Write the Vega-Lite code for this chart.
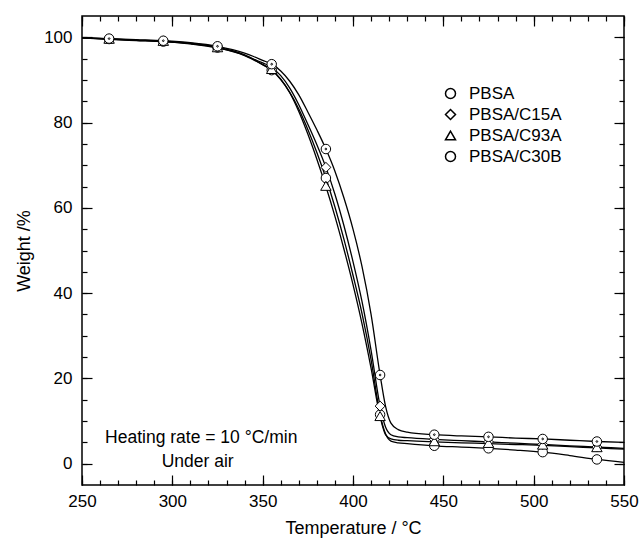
{
  "$schema": "https://vega.github.io/schema/vega-lite/v6.json",
  "width": 542,
  "height": 469,
  "autosize": "none",
  "padding": {"left": 82, "top": 16, "right": 18, "bottom": 60},
  "background": "white",
  "config": {
    "view": {"stroke": "black", "strokeWidth": 1.5},
    "font": "Liberation Sans",
    "axis": {
      "domain": false,
      "tickColor": "black", "tickWidth": 1.2,
      "labelFontSize": 17, "labelColor": "black", "labelFont": "Liberation Sans",
      "titleFont": "Liberation Sans", "titleFontSize": 18, "titleFontWeight": "normal", "titleColor": "black",
      "grid": false, "labelFlush": false, "labelOverlap": false, "labelBound": false
    }
  },
  "datasets": {
    "curves": [
      {"s":"PBSA","T":250,"W":99.9},{"s":"PBSA","T":265,"W":99.6},{"s":"PBSA","T":280,"W":99.3},{"s":"PBSA","T":295,"W":99.0},{"s":"PBSA","T":310,"W":98.5},{"s":"PBSA","T":325,"W":97.6},{"s":"PBSA","T":340,"W":95.8},{"s":"PBSA","T":345,"W":94.8},{"s":"PBSA","T":350,"W":93.6},{"s":"PBSA","T":355,"W":92.3},{"s":"PBSA","T":360,"W":90.1},{"s":"PBSA","T":365,"W":87.1},{"s":"PBSA","T":370,"W":83.2},{"s":"PBSA","T":375,"W":78.4},{"s":"PBSA","T":380,"W":73.0},{"s":"PBSA","T":385,"W":67.0},{"s":"PBSA","T":390,"W":60.2},{"s":"PBSA","T":395,"W":52.6},{"s":"PBSA","T":400,"W":44.2},{"s":"PBSA","T":405,"W":35.2},{"s":"PBSA","T":410,"W":24.4},{"s":"PBSA","T":415,"W":11.5},{"s":"PBSA","T":418,"W":7.0},{"s":"PBSA","T":421,"W":5.3},{"s":"PBSA","T":425,"W":4.9},{"s":"PBSA","T":430,"W":4.7},{"s":"PBSA","T":445,"W":4.2},{"s":"PBSA","T":460,"W":3.9},{"s":"PBSA","T":475,"W":3.6},{"s":"PBSA","T":490,"W":3.2},{"s":"PBSA","T":505,"W":2.7},{"s":"PBSA","T":520,"W":1.9},{"s":"PBSA","T":535,"W":1.0},{"s":"PBSA","T":550,"W":0.3},
      {"s":"PBSA/C15A","T":250,"W":99.9},{"s":"PBSA/C15A","T":265,"W":99.6},{"s":"PBSA/C15A","T":280,"W":99.35},{"s":"PBSA/C15A","T":295,"W":99.1},{"s":"PBSA/C15A","T":310,"W":98.6},{"s":"PBSA/C15A","T":325,"W":97.7},{"s":"PBSA/C15A","T":340,"W":95.9},{"s":"PBSA/C15A","T":345,"W":94.9},{"s":"PBSA/C15A","T":350,"W":94.0},{"s":"PBSA/C15A","T":355,"W":93.0},{"s":"PBSA/C15A","T":360,"W":91.0},{"s":"PBSA/C15A","T":365,"W":88.1},{"s":"PBSA/C15A","T":370,"W":84.2},{"s":"PBSA/C15A","T":375,"W":79.6},{"s":"PBSA/C15A","T":380,"W":74.8},{"s":"PBSA/C15A","T":385,"W":69.5},{"s":"PBSA/C15A","T":390,"W":63.2},{"s":"PBSA/C15A","T":395,"W":55.8},{"s":"PBSA/C15A","T":400,"W":47.4},{"s":"PBSA/C15A","T":405,"W":38.0},{"s":"PBSA/C15A","T":410,"W":26.6},{"s":"PBSA/C15A","T":415,"W":13.5},{"s":"PBSA/C15A","T":418,"W":8.6},{"s":"PBSA/C15A","T":421,"W":6.8},{"s":"PBSA/C15A","T":425,"W":6.3},{"s":"PBSA/C15A","T":430,"W":6.1},{"s":"PBSA/C15A","T":445,"W":5.7},{"s":"PBSA/C15A","T":460,"W":5.4},{"s":"PBSA/C15A","T":475,"W":5.1},{"s":"PBSA/C15A","T":490,"W":4.8},{"s":"PBSA/C15A","T":505,"W":4.5},{"s":"PBSA/C15A","T":520,"W":4.2},{"s":"PBSA/C15A","T":535,"W":3.9},{"s":"PBSA/C15A","T":550,"W":3.6},
      {"s":"PBSA/C93A","T":250,"W":99.85},{"s":"PBSA/C93A","T":265,"W":99.5},{"s":"PBSA/C93A","T":280,"W":99.25},{"s":"PBSA/C93A","T":295,"W":99.0},{"s":"PBSA/C93A","T":310,"W":98.45},{"s":"PBSA/C93A","T":325,"W":97.5},{"s":"PBSA/C93A","T":340,"W":95.7},{"s":"PBSA/C93A","T":345,"W":94.7},{"s":"PBSA/C93A","T":350,"W":93.6},{"s":"PBSA/C93A","T":355,"W":92.4},{"s":"PBSA/C93A","T":360,"W":90.2},{"s":"PBSA/C93A","T":365,"W":87.0},{"s":"PBSA/C93A","T":370,"W":82.6},{"s":"PBSA/C93A","T":375,"W":77.3},{"s":"PBSA/C93A","T":380,"W":71.4},{"s":"PBSA/C93A","T":385,"W":65.0},{"s":"PBSA/C93A","T":390,"W":58.0},{"s":"PBSA/C93A","T":395,"W":50.3},{"s":"PBSA/C93A","T":400,"W":42.0},{"s":"PBSA/C93A","T":405,"W":32.8},{"s":"PBSA/C93A","T":410,"W":22.4},{"s":"PBSA/C93A","T":415,"W":11.0},{"s":"PBSA/C93A","T":418,"W":6.8},{"s":"PBSA/C93A","T":421,"W":5.8},{"s":"PBSA/C93A","T":425,"W":5.5},{"s":"PBSA/C93A","T":430,"W":5.4},{"s":"PBSA/C93A","T":445,"W":5.1},{"s":"PBSA/C93A","T":460,"W":4.9},{"s":"PBSA/C93A","T":475,"W":4.7},{"s":"PBSA/C93A","T":490,"W":4.5},{"s":"PBSA/C93A","T":505,"W":4.3},{"s":"PBSA/C93A","T":520,"W":4.0},{"s":"PBSA/C93A","T":535,"W":3.7},{"s":"PBSA/C93A","T":550,"W":3.4},
      {"s":"PBSA/C30B","T":250,"W":99.95},{"s":"PBSA/C30B","T":265,"W":99.7},{"s":"PBSA/C30B","T":280,"W":99.45},{"s":"PBSA/C30B","T":295,"W":99.2},{"s":"PBSA/C30B","T":310,"W":98.75},{"s":"PBSA/C30B","T":325,"W":97.9},{"s":"PBSA/C30B","T":340,"W":96.3},{"s":"PBSA/C30B","T":345,"W":95.5},{"s":"PBSA/C30B","T":350,"W":94.6},{"s":"PBSA/C30B","T":355,"W":93.7},{"s":"PBSA/C30B","T":360,"W":92.1},{"s":"PBSA/C30B","T":365,"W":89.7},{"s":"PBSA/C30B","T":370,"W":86.5},{"s":"PBSA/C30B","T":375,"W":82.5},{"s":"PBSA/C30B","T":380,"W":78.3},{"s":"PBSA/C30B","T":385,"W":73.8},{"s":"PBSA/C30B","T":390,"W":68.6},{"s":"PBSA/C30B","T":395,"W":62.3},{"s":"PBSA/C30B","T":400,"W":55.0},{"s":"PBSA/C30B","T":405,"W":46.2},{"s":"PBSA/C30B","T":410,"W":35.0},{"s":"PBSA/C30B","T":415,"W":20.8},{"s":"PBSA/C30B","T":418,"W":13.5},{"s":"PBSA/C30B","T":421,"W":9.5},{"s":"PBSA/C30B","T":425,"W":8.0},{"s":"PBSA/C30B","T":430,"W":7.4},{"s":"PBSA/C30B","T":445,"W":6.8},{"s":"PBSA/C30B","T":460,"W":6.5},{"s":"PBSA/C30B","T":475,"W":6.3},{"s":"PBSA/C30B","T":490,"W":6.0},{"s":"PBSA/C30B","T":505,"W":5.8},{"s":"PBSA/C30B","T":520,"W":5.5},{"s":"PBSA/C30B","T":535,"W":5.2},{"s":"PBSA/C30B","T":550,"W":5.0}
    ],
    "notes": [
      {"T": 316, "W": 6.0, "label": "Heating rate = 10 °C/min"},
      {"T": 314, "W": 0.5, "label": "Under air"}
    ]
  },
  "layer": [
    {
      "data": {"name": "curves"},
      "mark": {"type": "line", "color": "black", "strokeWidth": 1.3, "interpolate": "monotone"},
      "encoding": {
        "x": {"field": "T", "type": "quantitative", "scale": {"domain": [250, 550], "nice": false, "zero": false},
          "axis": {"orient": "bottom", "values": [250, 300, 350, 400, 450, 500, 550],
            "tickSize": 10, "offset": -10,
            "tickColor": {"condition": {"test": "datum.value % 50 === 0", "value": "#000000"}, "value": "#1a1a1a"},
            "labelPadding": 8, "title": "Temperature / °C", "titlePadding": 10}},
        "y": {"field": "W", "type": "quantitative", "scale": {"domain": [-5, 105], "nice": false, "zero": false},
          "axis": {"orient": "left", "values": [0, 20, 40, 60, 80, 100],
            "tickSize": 10, "offset": -10,
            "tickColor": {"condition": {"test": "datum.value % 20 === 0", "value": "#000000"}, "value": "#1a1a1a"},
            "labelPadding": 10, "title": "Weight /%", "titlePadding": 10}},
        "detail": {"field": "s"}
      }
    },
    {
      "data": {"name": "curves"},
      "transform": [{"filter": {"field": "T", "oneOf": [265]}}],
      "mark": {"type": "point", "filled": false, "color": "black", "fill": "white", "fillOpacity": 1, "stroke": "black", "strokeWidth": 1, "size": 70, "opacity": 1},
      "encoding": {
        "x": {"field": "T", "type": "quantitative",
          "axis": {"orient": "bottom", "values": [250,260,270,280,290,300,310,320,330,340,350,360,370,380,390,400,410,420,430,440,450,460,470,480,490,500,510,520,530,540,550],
            "labels": false, "title": null, "tickSize": 5, "offset": -5,
            "tickColor": {"condition": {"test": "datum.value % 10 === 0", "value": "#000000"}, "value": "#1a1a1a"}}},
        "y": {"field": "W", "type": "quantitative",
          "axis": {"orient": "left", "values": [0,5,10,15,20,25,30,35,40,45,50,55,60,65,70,75,80,85,90,95,100],
            "labels": false, "title": null, "tickSize": 5, "offset": -5,
            "tickColor": {"condition": {"test": "datum.value % 5 === 0", "value": "#000000"}, "value": "#1a1a1a"}}},
        "shape": {"field": "s", "type": "nominal",
          "scale": {"domain": ["PBSA", "PBSA/C15A", "PBSA/C93A", "PBSA/C30B"], "range": ["circle", "diamond", "triangle-up", "circle"]},
          "legend": {"orient": "none", "legendX": 360, "legendY": 69, "title": null,
            "labelFontSize": 17, "labelFont": "Liberation Sans", "labelColor": "black", "labelOffset": 10, "rowPadding": 3}
        }
      }
    },
    {
      "data": {"name": "curves"},
      "transform": [{"filter": {"field": "T", "oneOf": [265, 295, 325, 355, 385, 415, 445, 475, 505, 535]}}],
      "mark": {"type": "point", "filled": false, "color": "black", "fill": "white", "fillOpacity": 1, "stroke": "black", "strokeWidth": 1, "size": 90, "opacity": 1},
      "encoding": {
        "x": {"field": "T", "type": "quantitative",
          "axis": {"orient": "top", "values": [250, 300, 350, 400, 450, 500, 550],
            "labels": false, "title": null, "tickSize": 10, "offset": -10,
            "tickColor": {"condition": {"test": "datum.value % 50 === 0", "value": "#000000"}, "value": "#1a1a1a"}}},
        "y": {"field": "W", "type": "quantitative",
          "axis": {"orient": "right", "values": [0, 20, 40, 60, 80, 100],
            "labels": false, "title": null, "tickSize": 10, "offset": -10,
            "tickColor": {"condition": {"test": "datum.value % 20 === 0", "value": "#000000"}, "value": "#1a1a1a"}}},
        "shape": {"field": "s", "type": "nominal",
          "scale": {"domain": ["PBSA", "PBSA/C15A", "PBSA/C93A", "PBSA/C30B"],
            "range": ["M1,0A1,1,0,1,1,-1,0A1,1,0,1,1,1,0Z", "M0,-1.05L1.05,0L0,1.05L-1.05,0Z", "M0,-1.1L1.1,0.8L-1.1,0.8Z", "M1,0A1,1,0,1,1,-1,0A1,1,0,1,1,1,0ZM0.18,0A0.18,0.18,0,1,1,-0.18,0A0.18,0.18,0,1,1,0.18,0Z"]},
          "legend": null
        }
      }
    },
    {
      "data": {"name": "notes"},
      "mark": {"type": "text", "fontSize": 17.5, "font": "Liberation Sans", "color": "black", "align": "center", "baseline": "middle"},
      "encoding": {
        "x": {"field": "T", "type": "quantitative",
          "axis": {"orient": "top", "values": [250,260,270,280,290,300,310,320,330,340,350,360,370,380,390,400,410,420,430,440,450,460,470,480,490,500,510,520,530,540,550],
            "labels": false, "title": null, "tickSize": 5, "offset": -5,
            "tickColor": {"condition": {"test": "datum.value % 10 === 0", "value": "#000000"}, "value": "#1a1a1a"}}},
        "y": {"field": "W", "type": "quantitative",
          "axis": {"orient": "right", "values": [0,5,10,15,20,25,30,35,40,45,50,55,60,65,70,75,80,85,90,95,100],
            "labels": false, "title": null, "tickSize": 5, "offset": -5,
            "tickColor": {"condition": {"test": "datum.value % 5 === 0", "value": "#000000"}, "value": "#1a1a1a"}}},
        "text": {"field": "label"}
      }
    }
  ],
  "resolve": {"axis": {"x": "independent", "y": "independent"}, "scale": {"shape": "independent"}}
}
